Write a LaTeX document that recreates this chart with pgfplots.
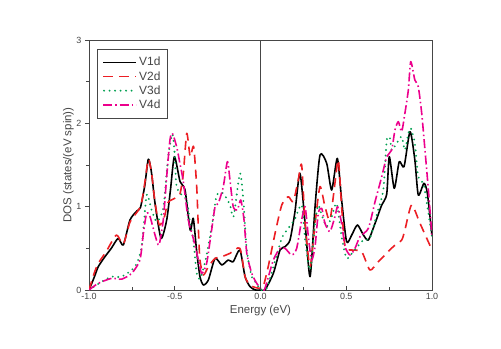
\documentclass[border=0pt]{standalone}
\usepackage{fontspec}
\setmainfont{Liberation Sans}
\usepackage{pgfplots}
\pgfplotsset{compat=1.18}

\definecolor{axgray}{RGB}{70,70,70}
\definecolor{vred}{RGB}{236,30,36}
\definecolor{vgreen}{RGB}{0,160,80}
\definecolor{vpink}{RGB}{236,0,140}

\begin{document}
\begin{tikzpicture}
\useasboundingbox (-89bp,-59bp) rectangle (412bp,290bp);
\begin{axis}[
    scale only axis,
    width=343bp, height=250bp,
    xmin=-1, xmax=1, ymin=0, ymax=3,
    xtick={-1,-0.5,0,0.5,1},
    ytick={0,1,2,3},
    minor x tick num=1,
    minor y tick num=1,
    xtick pos=bottom, ytick pos=left,
    xtick align=inside, ytick align=outside,
    major tick length=4bp, minor tick length=3bp,
    axis line style={axgray, line width=0.8pt},
    every tick/.style={axgray, line width=0.6pt},
    x tick label style={/pgf/number format/.cd, fixed, fixed zerofill, precision=1},
    /pgf/number format/assume math mode=true,
    tick label style={font=\fontsize{9}{10}\selectfont, text=axgray},
    xlabel={Energy (eV)},
    ylabel={DOS (states/(eV spin))},
    label style={font=\fontsize{11.5}{13}\selectfont, text=axgray},
    xlabel style={yshift=2bp},
    ylabel style={yshift=-4bp},
    legend cell align=left,
    legend style={at={(0,1)}, anchor=north west, xshift=8bp, yshift=-9bp,
        draw=axgray, line width=0.6pt, font=\fontsize{12}{14}\selectfont,
        text=axgray, inner xsep=5bp, inner ysep=6bp},
]
\addplot[black, line width=1.6pt, line join=round, smooth, tension=0.4,
    legend image code/.code={\draw[black, line width=1.6pt] (0bp,0bp) -- (33bp,0bp);}] coordinates {
(-1.00,0.00) (-0.97,0.15) (-0.946,0.28) (-0.907,0.40) (-0.87,0.50) (-0.83,0.62)
(-0.80,0.54) (-0.761,0.84) (-0.72,0.95) (-0.70,0.99) (-0.675,1.25) (-0.654,1.57)
(-0.635,1.40) (-0.615,1.04) (-0.58,0.62) (-0.547,0.84) (-0.525,1.20) (-0.502,1.60)
(-0.469,1.30) (-0.44,1.20) (-0.41,0.72) (-0.392,0.86) (-0.372,0.46) (-0.353,0.16)
(-0.333,0.06) (-0.304,0.12) (-0.265,0.38) (-0.226,0.30) (-0.188,0.36) (-0.159,0.34)
(-0.12,0.48) (-0.09,0.16) (-0.061,0.04) (-0.03,0.00) (0.00,0.00) (0.026,0.00)
(0.075,0.20) (0.114,0.48) (0.143,0.52) (0.172,0.60) (0.201,0.94) (0.23,1.40)
(0.26,0.80) (0.289,0.16) (0.318,1.00) (0.347,1.62) (0.386,1.52) (0.415,1.20)
(0.448,1.58) (0.473,1.08) (0.502,0.58) (0.532,0.66) (0.565,0.78) (0.60,0.66)
(0.629,0.60) (0.668,0.80) (0.707,1.02) (0.736,1.15) (0.751,1.60) (0.78,1.22)
(0.809,1.54) (0.837,1.48) (0.872,1.90) (0.90,1.56) (0.92,1.14) (0.953,1.28)
(0.973,1.16) (1.00,0.65)
};
\addlegendentry{V1d}
\addplot[vred, line width=1.6pt, line join=round, smooth, tension=0.4, dash pattern=on 9bp off 6bp,
    legend image code/.code={\draw[vred, line width=1.6pt, dash pattern=on 10bp off 6bp] (0bp,0bp) -- (33bp,0bp);}] coordinates {
(-1.00,0.00) (-0.97,0.20) (-0.946,0.32) (-0.90,0.46) (-0.84,0.66) (-0.80,0.55)
(-0.76,0.82) (-0.70,1.00) (-0.675,1.28) (-0.654,1.57) (-0.635,1.40) (-0.615,1.05)
(-0.59,0.78) (-0.56,0.88) (-0.54,1.05) (-0.50,1.10) (-0.47,1.15) (-0.45,1.40)
(-0.43,1.88) (-0.41,1.60) (-0.39,1.72) (-0.372,1.24) (-0.362,0.72) (-0.353,0.36)
(-0.333,0.18) (-0.304,0.28) (-0.265,0.38) (-0.226,0.40) (-0.178,0.44) (-0.12,0.50)
(-0.09,0.16) (-0.061,0.06) (-0.03,0.03) (0.00,0.02) (0.016,0.04) (0.045,0.28)
(0.085,0.68) (0.124,1.02) (0.162,1.12) (0.191,1.06) (0.22,1.32) (0.24,1.50)
(0.26,0.80) (0.289,0.28) (0.318,0.80) (0.347,1.24) (0.376,1.00) (0.405,0.84)
(0.434,1.28) (0.454,1.56) (0.473,1.00) (0.493,0.52) (0.532,0.48) (0.59,0.46)
(0.638,0.24) (0.687,0.34) (0.774,0.52) (0.823,0.60) (0.842,0.72) (0.881,1.02)
(0.93,0.80) (1.00,0.48)
};
\addlegendentry{V2d}
\addplot[vgreen, line width=2.1pt, line join=round, smooth, tension=0.4, line cap=round, dash pattern=on 0bp off 5.5bp,
    legend image code/.code={\draw[vgreen, line width=2.1pt, line cap=round, dash pattern=on 0bp off 5.5bp] (1bp,0bp) -- (33bp,0bp);}] coordinates {
(-1.00,0.00) (-0.926,0.10) (-0.868,0.16) (-0.81,0.16) (-0.732,0.28) (-0.693,0.52)
(-0.664,1.14) (-0.635,0.96) (-0.605,0.82) (-0.567,0.98) (-0.538,1.60) (-0.514,1.87)
(-0.50,1.62) (-0.489,1.24) (-0.45,1.12) (-0.43,1.08) (-0.41,0.80) (-0.392,0.60)
(-0.372,0.20) (-0.35,0.14) (-0.314,0.42) (-0.275,0.88) (-0.255,1.14) (-0.217,1.16)
(-0.178,1.02) (-0.157,0.88) (-0.12,1.40) (-0.10,1.08) (-0.08,0.48) (-0.051,0.16)
(-0.022,0.08) (0.00,0.00) (0.036,0.02) (0.075,0.28) (0.124,0.62) (0.162,0.74)
(0.20,0.85) (0.24,1.02) (0.26,0.60) (0.289,0.24) (0.318,0.80) (0.337,1.02)
(0.357,0.90) (0.386,0.76) (0.415,0.88) (0.444,1.04) (0.473,0.64) (0.502,0.38)
(0.541,0.46) (0.60,0.60) (0.638,0.62) (0.677,0.90) (0.716,1.20) (0.736,1.80)
(0.755,1.82) (0.765,1.68) (0.794,1.76) (0.823,1.84) (0.842,1.68) (0.862,1.88)
(0.877,1.94) (0.90,1.76) (0.92,1.36) (0.95,1.28) (0.973,1.00) (1.00,0.64)
};
\addlegendentry{V3d}
\addplot[vpink, line width=1.6pt, line join=round, smooth, tension=0.4, dash pattern=on 9bp off 3bp on 1.5bp off 3bp,
    legend image code/.code={\draw[vpink, line width=1.6pt, dash pattern=on 9bp off 3bp on 1.5bp off 3bp] (0bp,0bp) -- (33bp,0bp);}] coordinates {
(-1.00,0.00) (-0.946,0.08) (-0.868,0.14) (-0.81,0.13) (-0.751,0.20) (-0.703,0.36)
(-0.683,0.68) (-0.664,0.92) (-0.644,0.88) (-0.615,0.66) (-0.592,0.54) (-0.567,0.84)
(-0.547,1.36) (-0.528,1.80) (-0.514,1.88) (-0.489,1.72) (-0.47,1.52) (-0.45,1.30)
(-0.421,0.84) (-0.392,0.62) (-0.362,0.36) (-0.343,0.20) (-0.314,0.32) (-0.285,0.72)
(-0.265,1.00) (-0.246,1.04) (-0.217,1.24) (-0.193,1.54) (-0.178,1.32) (-0.159,1.00)
(-0.135,0.96) (-0.115,1.08) (-0.096,0.84) (-0.08,0.44) (-0.051,0.20) (-0.022,0.08)
(0.01,0.00) (0.026,0.02) (0.075,0.36) (0.114,0.50) (0.143,0.50) (0.182,0.42)
(0.211,0.50) (0.24,0.84) (0.26,1.00) (0.279,0.64) (0.298,0.36) (0.318,0.52)
(0.337,0.92) (0.357,0.98) (0.376,0.80) (0.405,0.70) (0.434,0.88) (0.45,1.00)
(0.473,0.80) (0.493,0.52) (0.522,0.42) (0.551,0.50) (0.58,0.64) (0.629,0.74)
(0.668,1.06) (0.707,1.36) (0.736,1.60) (0.765,1.68) (0.784,1.92) (0.804,2.02)
(0.823,1.90) (0.842,2.12) (0.862,2.40) (0.876,2.74) (0.90,2.52) (0.92,2.44)
(0.94,2.12) (0.959,1.68) (0.979,1.20) (1.00,0.64)
};
\addlegendentry{V4d}
\addplot[axgray, line width=0.8pt, forget plot] coordinates {(0,0) (0,3)};
\end{axis}
\end{tikzpicture}
\end{document}
